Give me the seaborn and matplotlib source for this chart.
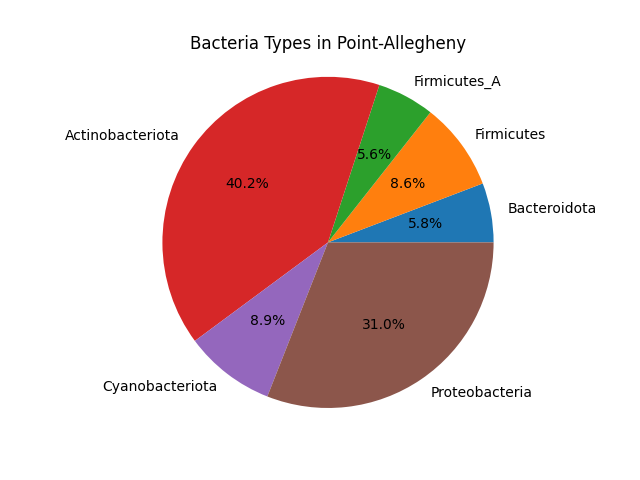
import matplotlib
matplotlib.use('Agg')
import matplotlib.pyplot as plt
import seaborn as sns

# Data pie
categories = ['Bacteroidota', 'Firmicutes', 'Firmicutes_A', 'Actinobacteriota',
              'Cyanobacteriota', 'Proteobacteria']
percentages = [5.8, 8.6, 5.6, 40.2, 8.9, 31.0]

colors = sns.color_palette('tab10', len(categories))

fig, ax = plt.subplots(figsize=(6.4, 4.8), dpi=100)
ax.pie(percentages, labels=categories, colors=colors, autopct='%1.1f%%', radius=1.12)
ax.set_xlim(-1.25, 1.25)
ax.set_ylim(-1.25, 1.25)
ax.set_title('Bacteria Types in Point-Allegheny')

plt.savefig('out.png')
plt.close()
